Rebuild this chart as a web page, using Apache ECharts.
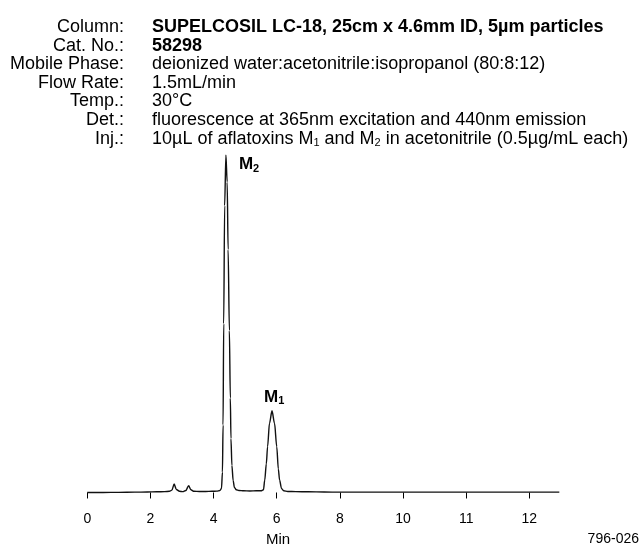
<!DOCTYPE html>
<html>
<head>
<meta charset="utf-8">
<script src="https://cdn.jsdelivr.net/npm/echarts@6/dist/echarts.min.js"></script>
<style>
html,body{margin:0;padding:0;background:#fff;}
#chart{width:644px;height:546px;}
</style>
</head>
<body>
<div id="chart"></div>
<script>
// ---- data ----
const headerLabels = ['Column:', 'Cat. No.:', 'Mobile Phase:', 'Flow Rate:', 'Temp.:', 'Det.:', 'Inj.:'];
const headerValues = [
  'SUPELCOSIL LC-18, 25cm x 4.6mm ID, 5µm particles',
  '58298',
  'deionized water:acetonitrile:isopropanol (80:8:12)',
  '1.5mL/min',
  '30°C',
  'fluorescence at 365nm excitation and 440nm emission',
  '10µL of aflatoxins M{s|1} and M{s|2} in acetonitrile (0.5µg/mL each)'
];
const boldRows = [true, true, false, false, false, false, false];

const times = [0, 0.5, 1.0, 1.5, 1.9, 2.2, 2.45, 2.6, 2.68, 2.75, 2.82, 2.92, 3.02, 3.12, 3.21, 3.28, 3.38, 3.55, 3.75, 3.95,
  4.10, 4.20, 4.25, 4.28, 4.30, 4.32, 4.35, 4.39, 4.43, 4.46, 4.50, 4.53, 4.55, 4.58, 4.62, 4.66, 4.72, 4.80, 4.95, 5.15,
  5.35, 5.50, 5.58, 5.62, 5.67, 5.71, 5.77, 5.85, 5.93, 6.00, 6.05, 6.09, 6.15, 6.22, 6.35, 6.6, 7.0, 7.5, 8.0, 9.0,
  10.0, 11.0, 12.0, 13.0, 14.0, 14.95];
const signal = [0, 0, 0.05, 0.1, 0.15, 0.2, 0.25, 0.35, 0.7, 2.5, 0.9, 0.35, 0.25, 0.6, 2.0, 0.8, 0.35, 0.3, 0.3, 0.35,
  0.4, 0.6, 1.2, 6, 20, 50, 85, 100, 92, 72, 48, 28, 16, 8, 3.5, 1.5, 0.8, 0.6, 0.5, 0.45,
  0.5, 0.5, 0.8, 3.7, 8.5, 13.6, 20.5, 24.2, 20.5, 13.6, 7, 3.7, 1.2, 0.5, 0.3, 0.25, 0.2, 0.15, 0.1, 0.1,
  0.1, 0.1, 0.1, 0.1, 0.1, 0.1];

const tickValues = [0, 2, 4, 6, 8, 10, 12, 14];
const tickLabels = ['0', '2', '4', '6', '8', '10', '11', '12'];

const peakNames = ['2', '1'];
const peakTimes = [4.39, 5.85];
const peakHeights = [100, 24.2];

const axisName = 'Min';
const figureCode = '796-026';

// ---- chart ----
const FONT = 'Liberation Sans, Arial, sans-serif';
const rowY0 = 27, rowStep = 18.6;
const graphics = [];
headerLabels.forEach((lab, i) => {
  graphics.push({
    type: 'text', x: 124, y: rowY0 + i * rowStep,
    style: { text: lab, fontSize: 18, fontFamily: FONT, fill: '#000', align: 'right', verticalAlign: 'middle' }
  });
  graphics.push({
    type: 'text', x: 152, y: rowY0 + i * rowStep,
    style: {
      text: headerValues[i], fontSize: 18, fontFamily: FONT, fill: '#000',
      fontWeight: boldRows[i] ? 'bold' : 'normal', align: 'left', verticalAlign: 'middle',
      rich: { s: { fontSize: 11, fontFamily: FONT, fill: '#000', padding: [9, 0, 0, 0] } }
    }
  });
});
graphics.push({
  type: 'text', x: 278, y: 540,
  style: { text: axisName, fontSize: 15, fontFamily: FONT, fill: '#000', align: 'center', verticalAlign: 'middle' }
});
graphics.push({
  type: 'text', x: 639, y: 539,
  style: { text: figureCode, fontSize: 14, fontFamily: FONT, fill: '#000', align: 'right', verticalAlign: 'middle' }
});

const seriesData = times.map((t, i) => [t, signal[i]]);

const chart = echarts.init(document.getElementById('chart'), null, { renderer: 'canvas' });
chart.setOption({
  animation: false,
  backgroundColor: '#fff',
  grid: { left: 87.3, right: 83.1, top: 155, bottom: 45.3, containLabel: false },
  xAxis: {
    type: 'value', min: 0, max: 15, interval: 2,
    axisLine: { show: false },
    axisTick: { show: true, length: 6, lineStyle: { color: '#000', width: 1 }, customValues: tickValues },
    axisLabel: {
      customValues: tickValues, margin: 11, fontSize: 14, fontFamily: FONT, color: '#000',
      formatter: (v) => { const k = tickValues.indexOf(v); return k >= 0 ? tickLabels[k] : ''; }
    },
    splitLine: { show: false }
  },
  yAxis: { type: 'value', min: -2.43, max: 100, show: false, splitLine: { show: false } },
  graphic: graphics,
  series: [{
    type: 'line', data: seriesData, showSymbol: false, symbol: 'none',
    smooth: 0.3, smoothMonotone: 'x',
    lineStyle: { color: '#111', width: 1.4 },
    markPoint: {
      symbol: 'circle', symbolSize: 0,
      data: peakTimes.map((t, i) => ({
        coord: [t, peakHeights[i]],
        label: {
          show: true,
          formatter: '{m|M}{s|' + peakNames[i] + '}',
          position: i === 0 ? [13, -1] : [-8, -24],
          rich: {
            m: { fontSize: 17, fontWeight: 'bold', fontFamily: FONT, color: '#000' },
            s: { fontSize: 11, fontWeight: 'bold', fontFamily: FONT, color: '#000', padding: [9, 0, 0, 0] }
          }
        }
      }))
    }
  }]
});
</script>
</body>
</html>
